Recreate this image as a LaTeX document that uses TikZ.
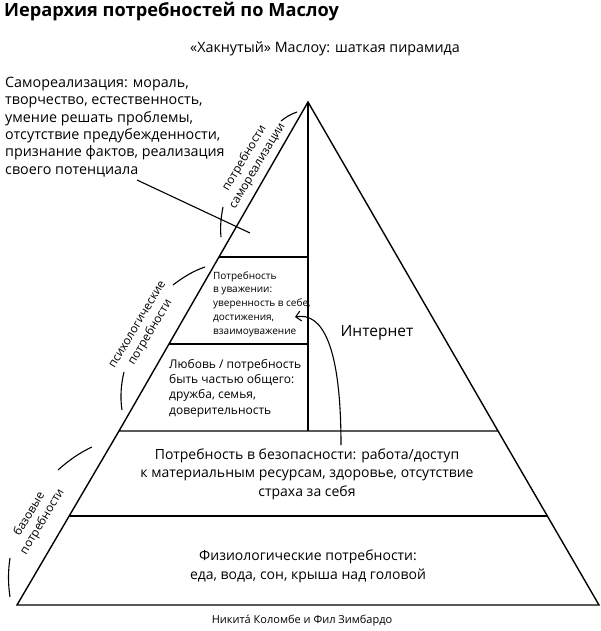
\documentclass[tikz,border=0pt]{standalone}
\usepackage{fontspec}
\setmainfont{Open Sans}
\usetikzlibrary{arrows.meta}
\begin{document}
\begin{tikzpicture}[x=1pt,y=-1pt,
  edge/.style={line width=1.4pt, line join=miter},
  tickline/.style={line width=1.1pt},
  txt/.style={inner sep=0pt, font=\fontsize{14.3}{17.4}\selectfont},
  small/.style={inner sep=0pt, font=\fontsize{10}{13.7}\selectfont, align=left, anchor=west},
  mid/.style={inner sep=0pt, font=\fontsize{12}{15.3}\selectfont, align=left, anchor=west},
  side/.style={inner sep=0pt, font=\fontsize{11.8}{15}\selectfont, align=center, rotate=59}]
\fill[white] (0,0) rectangle (600,631);
\useasboundingbox (0,0) rectangle (600,631);
% pyramid points
\coordinate (apex) at (308,102);
\coordinate (tl) at (119,431);
\coordinate (tr) at (498,431);
\coordinate (bl) at (17,605);
\coordinate (br) at (599,605);
\coordinate (ml) at (70,516);
\coordinate (mr) at (548,516);
\coordinate (vb) at (308,431);
\coordinate (h1l) at (219,257);
\coordinate (h1r) at (308,257);
\coordinate (h2l) at (169,344);
\coordinate (h2r) at (308,344);
\draw[edge] (apex) -- (tl) -- (tr) -- cycle;
\draw[edge] (tl) -- (bl) -- (br) -- (tr);
\draw[edge] (ml) -- (mr);
\draw[edge] (apex) -- (vb);
\draw[edge] (h1l) -- (h1r);
\draw[edge] (h2l) -- (h2r);
% texts
\node[inner sep=0pt, anchor=west, font=\fontsize{18.2}{20}\selectfont\bfseries] (title) at (4,12) {Иерархия потребностей по Маслоу};
\node[txt] (subtitle) at (325,49) {«Хакнутый» Маслоу: шаткая пирамида};
\node[txt, anchor=west, align=left] (selftext) at (5,127) {Самореализация: мораль,\\творчество, естественность,\\умение решать проблемы,\\отсутствие предубежденности,\\признание фактов, реализация\\своего потенциала};
\node[small] (esteem) at (213,304) {Потребность\\в уважении:\\уверенность в себе,\\достижения,\\взаимоуважение};
\node[mid] (love) at (169,388) {Любовь / потребность\\быть частью общего:\\дружба, семья,\\доверительность};
\node[inner sep=0pt, font=\fontsize{15.5}{18}\selectfont] (internet) at (377,333) {Интернет};
\node[txt, align=center, font=\fontsize{14}{18.5}\selectfont] (safety) at (307,474) {Потребность в безопасности: работа/доступ\\к материальным ресурсам, здоровье, отсутствие\\страха за себя};
\node[txt, align=center, font=\fontsize{14}{19}\selectfont] (physio) at (308,566) {Физиологические потребности:\\еда, вода, сон, крыша над головой};
\node[inner sep=0pt, font=\fontsize{11}{13}\selectfont] (credit) at (302,621) {Никитá Коломбе и Фил Зимбардо};
% side labels
\node[side] (selflab) at (251,162) {потребности\\самореализации};
\node[side] (psychlab) at (145,329) {психологические\\потребности};
\node[side] (baselab) at (36,518) {базовые\\потребности};
% bracket ticks
\draw[tickline] (281,121) .. controls (286,117) and (291,114) .. (297,112);
\draw[tickline] (223,207) .. controls (221,217) and (220,227) .. (221,237);
\draw[tickline] (173,285) .. controls (182,278) and (193,271) .. (205,267);
\draw[tickline] (124,372) .. controls (121,384) and (120,398) .. (122,410);
\draw[tickline] (58,470) .. controls (68,461) and (79,453) .. (92,447);
\draw[tickline] (10,558) .. controls (8,571) and (8,584) .. (10,597);
% pointer from self-actualization text
\coordinate (ptrA) at (137,180);
\coordinate (ptrB) at (250,233);
\draw[tickline] (ptrA) -- (ptrB);
% arrow from safety to esteem
\coordinate (arrS) at (341,445);
\coordinate (arrT) at (295,317);
\draw[tickline, -{Straight Barb[length=5pt,width=10pt]}] (arrS) .. controls (341,345) and (322,312) .. (arrT);
\end{tikzpicture}
\end{document}
